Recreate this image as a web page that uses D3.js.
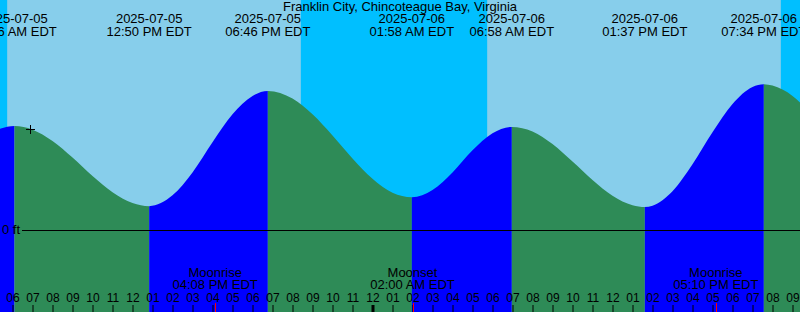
<!DOCTYPE html>
<html lang="en">
<head>
<meta charset="UTF-8">
<title>Franklin City, Chincoteague Bay, Virginia - tides</title>
<script src="https://d3js.org/d3.v7.min.js"></script>
<style>
    body { margin: 0; background: #fff; }
    svg { display: block; font-family: "Liberation Sans", Arial, sans-serif; font-size: 13px; }
</style>
</head>
<body>
<svg id="chart" width="800" height="312"></svg>
<script>
// Station name
const title = "Franklin City, Chincoteague Bay, Virginia";

// Visible window (local clock time, EDT)
const viewStart = "2025-07-05 05:22:30";
const viewEnd = "2025-07-06 21:22:30";

// High / low tides: time and height (ft)
const tideTimes = ["2025-07-05 06:06", "2025-07-05 12:50", "2025-07-05 18:46",
                   "2025-07-06 01:58", "2025-07-06 06:58", "2025-07-06 13:37", "2025-07-06 19:34"];
const tideHeights = [2.31, 0.53, 3.09, 0.73, 2.29, 0.51, 3.24];

const hourlyStart = "2025-07-05 05:00";
const hourlyHeights = [
    2.19, 2.30, 2.23, 1.98, 1.61, 1.20, 0.84, 0.60, 0.54, 0.77,
    1.28, 1.95, 2.57, 2.98, 3.08, 2.92, 2.57, 2.10, 1.59, 1.14,
    0.83, 0.74, 0.89, 1.28, 1.77, 2.15, 2.28, 2.19, 1.91, 1.52,
    1.11, 0.76, 0.55, 0.54, 0.86, 1.46, 2.17, 2.80, 3.18, 3.21,
    2.98, 2.54
];

// Sunrise, sunset, sunrise, sunset
const sunTimes = ["2025-07-05 05:44", "2025-07-05 20:25", "2025-07-06 05:44", "2025-07-06 20:25"];

// Moon events
const moonNames = ["Moonrise", "Moonset", "Moonrise"];
const moonTimes = ["2025-07-05 16:08", "2025-07-06 02:00", "2025-07-06 17:10"];

// Current time mark
const nowTime = "2025-07-05 06:52";
const nowHeight = 2.24;

const colors = { day: "#87CEEB", night: "#00BFFF", rising: "#0000FF", falling: "#2E8B57" };

const W = 800, H = 312;
const parse = d3.utcParse("%Y-%m-%d %H:%M");
const parseS = d3.utcParse("%Y-%m-%d %H:%M:%S");
const fmtDate = d3.utcFormat("%Y-%m-%d");
const fmtTime = d3.utcFormat("%I:%M %p EDT");

const t0 = parseS(viewStart), t1 = parseS(viewEnd);
const x = d3.scaleUtc().domain([t0, t1]).range([0, W]);
const y = d3.scaleLinear().domain([0, 4]).range([230, 50]);

const svg = d3.select("#chart");

// sky: day then night bands
svg.append("rect").attr("width", W).attr("height", H).attr("fill", colors.day);
const sun = sunTimes.map(parse);
const nights = [[t0, sun[0]], [sun[1], sun[2]], [sun[3], t1]];
svg.selectAll(".night")
    .data(nights)
    .enter().append("rect")
    .attr("class", "night")
    .attr("x", d => x(d[0]))
    .attr("width", d => x(d[1]) - x(d[0]))
    .attr("y", 0)
    .attr("height", H)
    .attr("fill", colors.night);

// curve points: hourly readings + extremes
// (readings that sit within 20 min of an extreme are dropped, the extreme stands for them)
const hours = d3.utcHour.range(parse(hourlyStart), d3.utcHour.offset(parse(hourlyStart), hourlyHeights.length));
const events = tideTimes.map((t, i) => ({ t: parse(t), h: tideHeights[i] }));
const points = hours.map((t, i) => ({ t, h: hourlyHeights[i] }))
    .filter(p => !events.some(e => Math.abs(e.t - p.t) < 20 * 60 * 1000))
    .concat(events)
    .sort((a, b) => a.t - b.t);

const area = d3.area()
    .x(d => x(d.t))
    .y0(H)
    .y1(d => y(d.h))
    .curve(d3.curveMonotoneX);

svg.append("clipPath").attr("id", "water")
    .append("path").attr("d", area(points));

// rising / falling segments between extremes
const isHigh = i => tideHeights[i] > (tideHeights[i - 1] ?? tideHeights[i + 1]);
const bounds = [points[0].t].concat(events.map(e => e.t), [points[points.length - 1].t]);
const segs = d3.pairs(bounds).map((p, i) => ({
    a: p[0], b: p[1],
    rising: i < events.length ? isHigh(i) : !isHigh(events.length - 1)
}));
svg.append("g").attr("clip-path", "url(#water)")
    .selectAll("rect")
    .data(segs)
    .enter().append("rect")
    .attr("x", d => x(d.a))
    .attr("width", d => x(d.b) - x(d.a))
    .attr("y", 0)
    .attr("height", H)
    .attr("fill", d => d.rising ? colors.rising : colors.falling);

// 0 ft line
svg.append("line")
    .attr("x1", 22).attr("x2", W)
    .attr("y1", Math.round(y(0)) + 0.5).attr("y2", Math.round(y(0)) + 0.5)
    .attr("stroke", "#000");
svg.append("text")
    .attr("x", 20).attr("y", y(0) + 4)
    .attr("text-anchor", "end")
    .text("0 ft");

// title and tide labels
svg.append("text")
    .attr("x", W / 2).attr("y", 11)
    .attr("text-anchor", "middle")
    .text(title);

const tl = svg.selectAll(".tide-label")
    .data(events)
    .enter().append("g")
    .attr("class", "tide-label")
    .attr("text-anchor", "middle");
tl.append("text").attr("x", d => x(d.t)).attr("y", 23).text(d => fmtDate(d.t));
tl.append("text").attr("x", d => x(d.t)).attr("y", 36).text(d => fmtTime(d.t));

// moon labels
const moon = moonTimes.map((t, i) => ({ t: parse(t), name: moonNames[i] }));
const ml = svg.selectAll(".moon-label")
    .data(moon)
    .enter().append("g")
    .attr("class", "moon-label")
    .attr("text-anchor", "middle");
ml.append("text").attr("x", d => x(d.t)).attr("y", 277).text(d => d.name);
ml.append("text").attr("x", d => x(d.t)).attr("y", 289).text(d => fmtTime(d.t));

// hour axis along the bottom
const gAxis = svg.append("g")
    .attr("transform", `translate(0,${H})`)
    .call(d3.axisTop(x)
        .ticks(d3.utcHour.every(1))
        .tickFormat(d3.utcFormat("%I"))
        .tickSize(7)
        .tickPadding(3))
    .attr("font-size", 12)
    .attr("font-family", "Liberation Sans, Arial, sans-serif");
gAxis.select(".domain").remove();
gAxis.selectAll(".tick line")
    .attr("stroke", "#000")
    .attr("stroke-width", d => d.getUTCHours() === 0 ? 3 : 1);
gAxis.selectAll(".tick text").attr("fill", "#000");

// moon event ticks
svg.selectAll(".moon-tick")
    .data(moon)
    .enter().append("line")
    .attr("class", "moon-tick")
    .attr("x1", d => Math.round(x(d.t)) + 0.5)
    .attr("x2", d => Math.round(x(d.t)) + 0.5)
    .attr("y1", H - 9).attr("y2", H)
    .attr("stroke", "#FF0000");

// current time mark
const nx = Math.round(x(parse(nowTime))) + 0.5, ny = Math.round(y(nowHeight)) + 0.5;
svg.append("path")
    .attr("d", `M${nx - 4.5},${ny}H${nx + 4.5}M${nx},${ny - 4.5}V${ny + 4.5}`)
    .attr("stroke", "#000")
    .attr("fill", "none");
</script>
</body>
</html>
